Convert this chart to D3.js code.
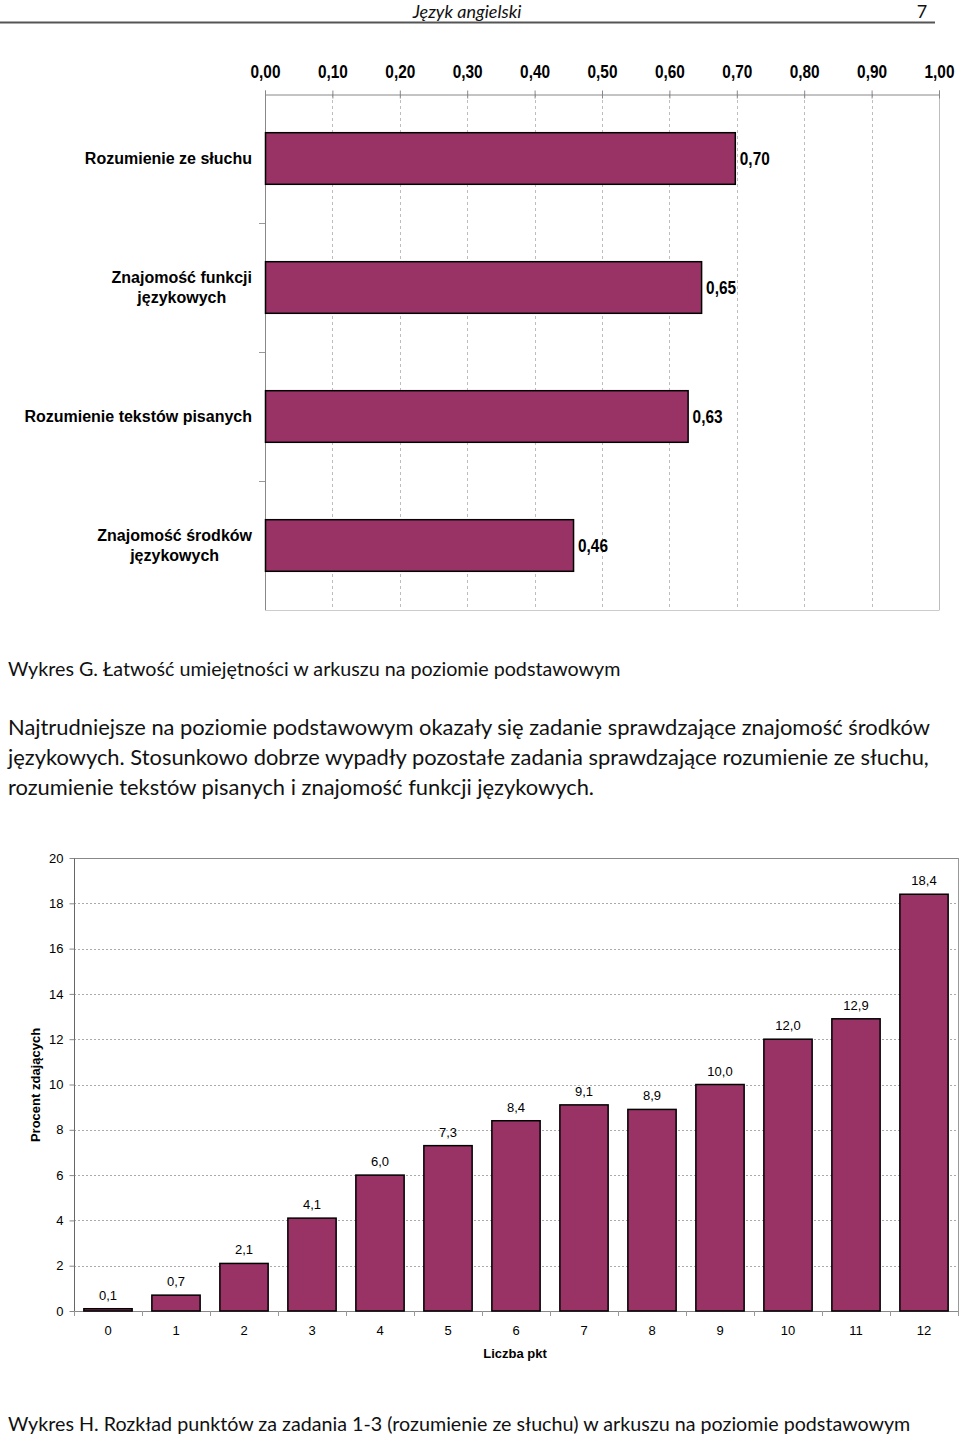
<!DOCTYPE html>
<html><head><meta charset="utf-8">
<script src="https://cdn.jsdelivr.net/npm/d3@7"></script>
<style>
body{margin:0;background:#fff;}
svg{display:block;}
</style></head>
<body>
<svg id="c" width="960" height="1438"></svg>
<script>
// ---- Data: chart G (top) ----
const skillLabels = [
  ["Rozumienie ze słuchu"],
  ["Znajomość funkcji", "językowych"],
  ["Rozumienie tekstów pisanych"],
  ["Znajomość środków", "językowych"]
];
const skillValues = [0.70, 0.65, 0.63, 0.46];
const skillTicks = [0,0.1,0.2,0.3,0.4,0.5,0.6,0.7,0.8,0.9,1.0];

// ---- Data: chart H (bottom) ----
const pointCategories = ["0","1","2","3","4","5","6","7","8","9","10","11","12"];
const pointPercents = [0.1, 0.7, 2.1, 4.1, 6.0, 7.3, 8.4, 9.1, 8.9, 10.0, 12.0, 12.9, 18.4];
const percentTicks = [0,2,4,6,8,10,12,14,16,18,20];

// ---- Texts ----
const headerTitle = "Język angielski";
const pageNumber = "7";
const captionG = "Wykres G. Łatwość umiejętności w arkuszu na poziomie podstawowym";
const paragraph = [
  "Najtrudniejsze na poziomie podstawowym okazały się zadanie sprawdzające znajomość środków",
  "językowych. Stosunkowo dobrze wypadły pozostałe zadania sprawdzające rozumienie ze słuchu,",
  "rozumienie tekstów pisanych i znajomość funkcji językowych."
];
const captionH = "Wykres H. Rozkład punktów za zadania 1-3 (rozumienie ze słuchu) w arkuszu na poziomie podstawowym";

const fmt = (v, d) => v.toFixed(d).replace(".", ",");
const BAR = "#993366";
const svg = d3.select("#c");
const bodyFont = "Lato, 'Open Sans', sans-serif";

// Header
svg.append("text").attr("x", 467).attr("y", 18).attr("text-anchor", "middle")
  .attr("font-family", bodyFont).attr("font-style", "italic").attr("font-size", 18)
  .attr("fill", "#111").text(headerTitle);
svg.append("text").attr("x", 922).attr("y", 18).attr("text-anchor", "middle")
  .attr("font-family", bodyFont).attr("font-size", 18).attr("fill", "#111").text(pageNumber);
svg.append("line").attr("x1", 0).attr("x2", 935).attr("y1", 22.5).attr("y2", 22.5)
  .attr("stroke", "#555").attr("stroke-width", 2);

// ---------- Chart G ----------
(function(){
  const x = d3.scaleLinear().domain([0, 1]).range([265, 939]);
  const y = d3.scaleBand().domain(d3.range(skillValues.length)).range([94, 610]).paddingInner(0.6).paddingOuter(0.3);
  const g = svg.append("g");
  const narrow = "'Liberation Sans', Arial, sans-serif";
  const squeeze = "scale(0.88,1)";

  // gridlines
  g.selectAll(".grid").data(skillTicks.slice(1)).join("line")
    .attr("x1", d => Math.round(x(d)) + 0.5).attr("x2", d => Math.round(x(d)) + 0.5)
    .attr("y1", 94).attr("y2", 610)
    .attr("stroke", "#bdbdbd")
    .attr("stroke-dasharray", d => d === 1 ? null : "3,3");
  // bottom border
  g.append("line").attr("x1", 265).attr("x2", 939.5).attr("y1", 610.5).attr("y2", 610.5).attr("stroke", "#ccc");

  // top axis
  const ax = d3.axisTop(x).tickValues(skillTicks).tickSize(4).tickFormat(d => fmt(d, 2));
  const axG = g.append("g").attr("transform", "translate(0,94.5)").call(ax);
  axG.select(".domain").attr("stroke", "#888");
  axG.selectAll(".tick line").attr("stroke", "#888").attr("y1", 4).attr("y2", -4);
  axG.selectAll(".tick text").attr("font-family", narrow).attr("font-weight", "bold")
    .attr("font-size", 17.5).attr("fill", "#000").attr("y", -17).attr("transform", squeeze);

  // left axis line
  g.append("line").attr("x1", 265.5).attr("x2", 265.5).attr("y1", 94).attr("y2", 610).attr("stroke", "#888");
  const bounds = d3.range(1, skillValues.length).map(i => 94 + i * (516 / skillValues.length));
  g.selectAll(".ct").data(bounds).join("line")
    .attr("x1", 259).attr("x2", 265).attr("y1", d => Math.round(d) + 0.5).attr("y2", d => Math.round(d) + 0.5)
    .attr("stroke", "#999");

  // bars
  g.selectAll(".bar").data(skillValues).join("rect")
    .attr("x", x(0) + 0.5).attr("y", (d, i) => y(i))
    .attr("width", d => x(d) - x(0) - 2).attr("height", y.bandwidth())
    .attr("fill", BAR).attr("stroke", "#000").attr("stroke-width", 1.5);

  // value labels
  g.selectAll(".val").data(skillValues).join("g")
    .attr("transform", (d, i) => `translate(${x(d) + 3},${y(i) + y.bandwidth() / 2})`)
    .append("text").attr("dy", "0.35em").attr("transform", squeeze)
    .attr("font-family", narrow).attr("font-weight", "bold").attr("font-size", 17.5).attr("fill", "#000")
    .text(d => fmt(d, 2));

  // category labels
  skillLabels.forEach((lines, i) => {
    const cy = y(i) + y.bandwidth() / 2;
    const t = g.append("text").attr("font-family", "'Liberation Sans', Arial, sans-serif")
      .attr("font-weight", "bold").attr("font-size", 16).attr("fill", "#000");
    const spans = lines.map((s, k) => t.append("tspan").text(s));
    const widths = spans.map(s => s.node().getComputedTextLength());
    const maxW = d3.max(widths);
    const cx = 252 - maxW / 2;
    const lh = 20;
    spans.forEach((s, k) => {
      s.attr("x", cx).attr("text-anchor", "middle")
        .attr("y", cy + (k - (lines.length - 1) / 2) * lh).attr("dy", "0.35em");
    });
  });
})();

// ---------- Texts between ----------
svg.append("text").attr("x", 8).attr("y", 676).attr("font-family", bodyFont)
  .attr("font-size", 19.7).attr("fill", "#111").text(captionG);
svg.selectAll(".para").data(paragraph).join("text")
  .attr("x", 8).attr("y", (d, i) => 735 + i * 30)
  .attr("font-family", bodyFont).attr("font-size", 21.9).attr("fill", "#111").text(d => d);

// ---------- Chart H ----------
(function(){
  const x = d3.scaleBand().domain(pointCategories).range([74, 958]).paddingInner(0.29).paddingOuter(0.145);
  const y = d3.scaleLinear().domain([0, 20]).range([1311, 858]);
  const g = svg.append("g");
  const arial = "'Liberation Sans', Arial, sans-serif";

  // gridlines
  g.selectAll(".grid").data(percentTicks.filter(d => d > 0 && d < 20)).join("line")
    .attr("x1", 74).attr("x2", 958)
    .attr("y1", d => Math.round(y(d)) + 0.5).attr("y2", d => Math.round(y(d)) + 0.5)
    .attr("stroke", "#aaa").attr("stroke-dasharray", "2,2");
  // frame top/right
  g.append("line").attr("x1", 74).attr("x2", 958).attr("y1", 858.5).attr("y2", 858.5).attr("stroke", "#888");
  g.append("line").attr("x1", 958.5).attr("x2", 958.5).attr("y1", 858).attr("y2", 1311).attr("stroke", "#999");

  // y axis
  const ay = d3.axisLeft(y).tickValues(percentTicks).tickSize(5).tickFormat(d => d);
  const ayG = g.append("g").attr("transform", "translate(74.5,0)").call(ay);
  ayG.select(".domain").attr("stroke", "#666").attr("d", `M0,${y(20)}V${y(0)}`);
  ayG.selectAll(".tick line").attr("stroke", "#888");
  ayG.selectAll(".tick text").attr("font-family", arial).attr("font-size", 13).attr("fill", "#000").attr("x", -11);

  // x axis
  g.append("line").attr("x1", 74).attr("x2", 958).attr("y1", 1311.5).attr("y2", 1311.5).attr("stroke", "#888");
  const bnd = d3.range(pointCategories.length + 1).map(i => 74 + i * x.step());
  g.selectAll(".xt").data(bnd).join("line")
    .attr("x1", d => Math.round(d) + 0.5).attr("x2", d => Math.round(d) + 0.5)
    .attr("y1", 1311).attr("y2", 1316).attr("stroke", "#999");
  g.selectAll(".xl").data(pointCategories).join("text")
    .attr("x", d => x(d) + x.bandwidth() / 2).attr("y", 1335).attr("text-anchor", "middle")
    .attr("font-family", arial).attr("font-size", 13).attr("fill", "#000").text(d => d);

  // bars
  g.selectAll(".bar").data(pointPercents).join("rect")
    .attr("x", (d, i) => x(pointCategories[i])).attr("y", d => y(d))
    .attr("width", x.bandwidth()).attr("height", d => y(0) - y(d))
    .attr("fill", BAR).attr("stroke", "#000").attr("stroke-width", 1.5);

  // value labels
  g.selectAll(".val").data(pointPercents).join("text")
    .attr("x", (d, i) => x(pointCategories[i]) + x.bandwidth() / 2)
    .attr("y", d => y(d) - 9).attr("text-anchor", "middle")
    .attr("font-family", arial).attr("font-size", 13).attr("fill", "#000")
    .text(d => fmt(d, 1));

  // titles
  g.append("text").attr("x", 515).attr("y", 1358).attr("text-anchor", "middle")
    .attr("font-family", arial).attr("font-weight", "bold").attr("font-size", 13).attr("fill", "#000").text("Liczba pkt");
  g.append("text").attr("transform", "translate(40,1085) rotate(-90)").attr("text-anchor", "middle")
    .attr("font-family", arial).attr("font-weight", "bold").attr("font-size", 13).attr("fill", "#000").text("Procent zdających");
})();

svg.append("text").attr("x", 8).attr("y", 1431).attr("font-family", bodyFont)
  .attr("font-size", 19.7).attr("fill", "#111").text(captionH);
</script>
</body></html>
